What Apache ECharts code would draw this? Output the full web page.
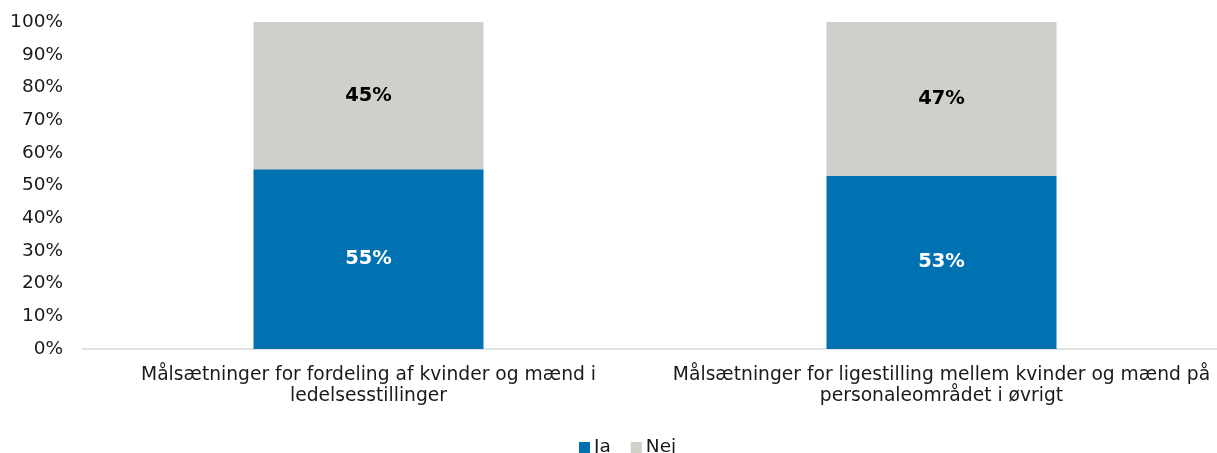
<!DOCTYPE html>
<html>
<head>
<meta charset="utf-8">
<script src="https://cdn.jsdelivr.net/npm/echarts@6/dist/echarts.min.js"></script>
<style>
  html, body { margin: 0; padding: 0; background: #fff; }
  #chart { width: 1217px; height: 453px; }
</style>
</head>
<body>
<div id="chart"></div>
<script>
const categories = [
  'Målsætninger for fordeling af kvinder og mænd i\nledelsesstillinger',
  'Målsætninger for ligestilling mellem kvinder og mænd på\npersonaleområdet i øvrigt'
];
const jaValues = [55, 53];
const nejValues = [45, 47];

const chart = echarts.init(document.getElementById('chart'));
const font = 'DejaVu Sans';

const option = {
  animation: false,
  textStyle: { fontFamily: font },
  grid: { left: 82, right: -11, top: 22, bottom: 104, outerBoundsMode: 'none', containLabel: false },
  legend: {
    bottom: -9,
    left: 574,
    itemWidth: 11,
    itemHeight: 11,
    itemGap: 20,
    itemStyle: { borderWidth: 0 },
    icon: 'rect',
    textStyle: { fontSize: 18.5, color: '#1a1a1a', fontFamily: font, padding: [0, 0, 0, -1] },
    data: ['Ja', 'Nej']
  },
  xAxis: {
    type: 'category',
    data: categories,
    axisLine: { lineStyle: { color: '#d9d9d9', width: 1.5 } },
    axisTick: { show: false },
    axisLabel: {
      color: '#1a1a1a',
      fontSize: 18.7,
      fontFamily: font,
      lineHeight: 21,
      margin: 16,
      interval: 0
    }
  },
  yAxis: {
    type: 'value',
    min: 0,
    max: 100,
    interval: 10,
    splitLine: { show: false },
    axisLine: { show: false },
    axisTick: { show: false },
    axisLabel: {
      color: '#1a1a1a',
      fontSize: 18.5,
      fontFamily: font,
      margin: 19,
      formatter: '{value}%'
    }
  },
  series: [
    {
      name: 'Ja',
      type: 'bar',
      stack: 'total',
      barWidth: 230,
      data: jaValues,
      itemStyle: { color: '#0071b1' },
      label: {
        show: true,
        position: 'inside',
        color: '#ffffff',
        fontWeight: 'bold',
        fontSize: 19.5,
        fontFamily: font,
        formatter: '{c}%'
      }
    },
    {
      name: 'Nej',
      type: 'bar',
      stack: 'total',
      barWidth: 230,
      data: nejValues,
      itemStyle: { color: '#d0cfca' },
      label: {
        show: true,
        position: 'inside',
        color: '#000000',
        fontWeight: 'bold',
        fontSize: 19.5,
        fontFamily: font,
        formatter: '{c}%'
      }
    }
  ]
};
chart.setOption(option);
</script>
</body>
</html>
